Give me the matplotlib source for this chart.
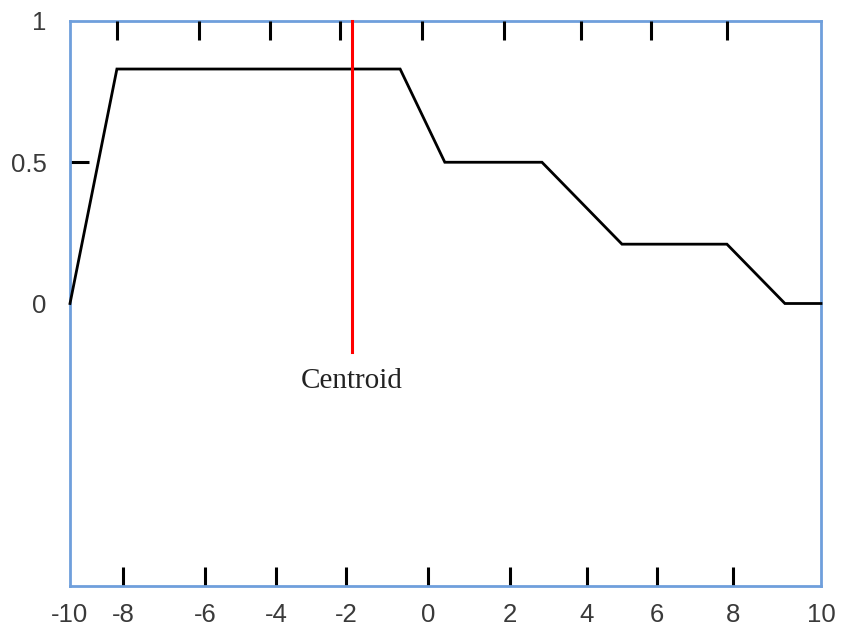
import numpy as np
import matplotlib
matplotlib.use("Agg")
import matplotlib.pyplot as plt

# ---- data ----
x_ticks = [-10, -8, -6, -4, -2, 0, 2, 4, 6, 8, 10]
x_tick_pos = [70, 123, 205, 276, 346, 428, 510, 587, 657, 733, 821]  # non-uniform axis as drawn
curve_x = [-10, -8.23, -0.68, 0.41, 2.83, 5.0, 7.84, 9.18, 10]
curve_y = [0.0, 0.83, 0.83, 0.5, 0.5, 0.21, 0.21, 0.0, 0.0]
centroid_x = -1.85
centroid_y = [1.0, -0.17]
centroid_label = "Centroid"
y_major = [0.5]
y_major_labels = ["0.5"]
y_minor = [0, 1]
y_minor_labels = ["0", "1"]

tp = np.array(x_tick_pos, dtype=float)
tv = np.array(x_ticks, dtype=float)


def fwd(x):
    return np.interp(np.asarray(x, dtype=float), tv, tp)


def inv(p):
    return np.interp(np.asarray(p, dtype=float), tp, tv)


TOP_SHIFT = 6.0  # top tick marks sit slightly left of bottom ones

fig = plt.figure(figsize=(8.44, 6.26), dpi=100)
ax = fig.add_axes([70 / 844, 40 / 626, (821 - 70) / 844, (586 - 21) / 626])
ax.set_xscale("function", functions=(fwd, inv))
ax.set_xlim(-10, 10)
ax.set_ylim(-1, 1)

ax.plot(curve_x, curve_y, color="black", lw=2.0, solid_joinstyle="miter", clip_on=False, zorder=3)
ax.plot([centroid_x, centroid_x], centroid_y, color="#ff0000", lw=2.2, zorder=4, clip_on=False)
ax.text(centroid_x, -0.273, centroid_label, ha="center", va="center",
        fontsize=21, family="Liberation Serif", color="#222222")

blue = "#6f9fdc"
for s in ax.spines.values():
    s.set_color(blue)
    s.set_linewidth(2.0)

lab_size = 18.5
lab_color = "#3a3a3a"

inner = x_ticks[1:-1]
ends = [x_ticks[0], x_ticks[-1]]
ax.set_xticks(inner)
ax.set_xticklabels([f"{v}" for v in inner])
ax.set_xticks(ends, minor=True)
ax.set_xticklabels([f"{v}" for v in ends], minor=True)
ax.tick_params(axis="x", which="major", direction="in", length=13.5, width=2.2, color="black",
               pad=12, labelsize=lab_size, labelcolor=lab_color)
ax.tick_params(axis="x", which="minor", direction="in", length=0,
               pad=12, labelsize=lab_size, labelcolor=lab_color)
for lab in ax.get_xticklabels() + ax.get_xticklabels(minor=True):
    lab.set_family("Liberation Sans")

ax.set_yticks(y_major)
ax.set_yticklabels(y_major_labels)
ax.set_yticks(y_minor, minor=True)
ax.set_yticklabels(y_minor_labels, minor=True)
ax.tick_params(axis="y", which="major", direction="in", length=13.5, width=2.2,
               color="black", pad=17, labelsize=lab_size, labelcolor=lab_color)
ax.tick_params(axis="y", which="minor", direction="in", length=0,
               pad=17, labelsize=lab_size, labelcolor=lab_color)
for lab in ax.get_yticklabels() + ax.get_yticklabels(minor=True):
    lab.set_family("Liberation Sans")

# top tick marks
top = ax.twiny()
top.set_xscale("function", functions=(fwd, inv))
top.set_xlim(-10, 10)
top_pos = inv(fwd(np.array(inner, dtype=float)) - TOP_SHIFT)
top.set_xticks(top_pos)
top.set_xticklabels([])
top.set_xticks([], minor=True)
top.tick_params(axis="x", direction="in", length=13.5, width=2.2, color="black")
for s in top.spines.values():
    s.set_visible(False)

fig.savefig("out.png", dpi=100, facecolor="white")
